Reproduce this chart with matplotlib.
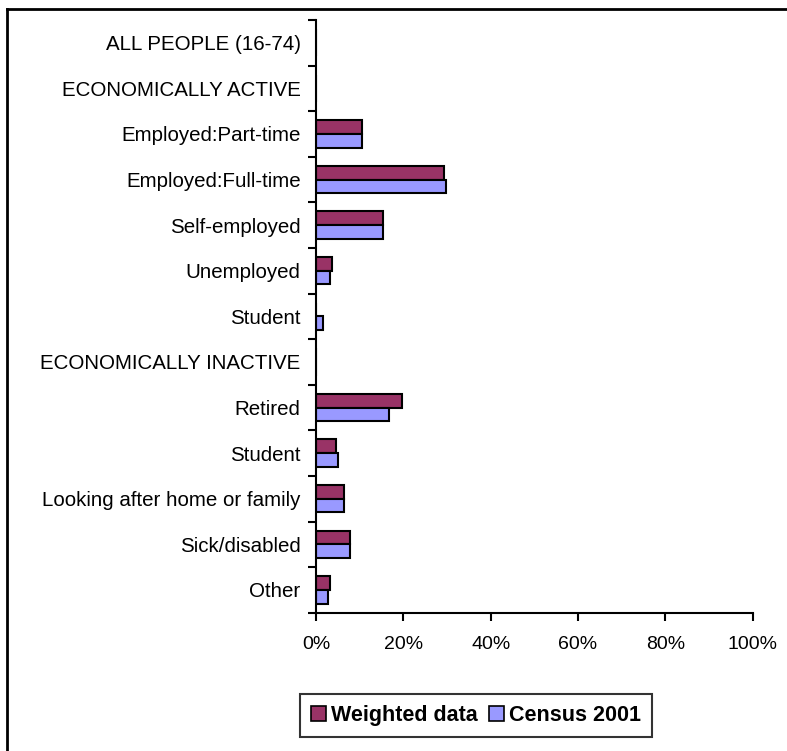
import matplotlib.pyplot as plt
from matplotlib.lines import Line2D
from matplotlib.patches import Patch

plt.rcParams['font.family'] = ['Liberation Sans', 'DejaVu Sans']

categories = [
    "ALL PEOPLE (16-74)", "ECONOMICALLY ACTIVE", "Employed:Part-time",
    "Employed:Full-time", "Self-employed", "Unemployed", "Student",
    "ECONOMICALLY INACTIVE", "Retired", "Student",
    "Looking after home or family", "Sick/disabled", "Other",
]
weighted = [0, 0, 10.5, 29.2, 15.4, 3.7, 0, 0, 19.6, 4.6, 6.4, 7.8, 3.2]
census = [0, 0, 10.5, 29.7, 15.4, 3.2, 1.7, 0, 16.8, 5.0, 6.4, 7.8, 2.7]
xticks = [0, 20, 40, 60, 80, 100]

W, H = 787, 751
fig = plt.figure(figsize=(W / 100, H / 100), dpi=100)
ax = fig.add_axes([316 / W, 1 - 612.7 / H, (752.7 - 316) / W, (612.7 - 20) / H])

ypos = list(range(len(categories)))
bh = 0.3
ax.barh([y - bh / 2 for y in ypos], weighted, height=bh, color='#993366',
        edgecolor='black', linewidth=1.5)
ax.barh([y + bh / 2 for y in ypos], census, height=bh, color='#9999FF',
        edgecolor='black', linewidth=1.5)

ax.set_xlim(0, 100)
ax.set_ylim(len(categories) - 0.5, -0.5)
ax.set_xticks(xticks)
ax.set_xticklabels([f"{v}%" for v in xticks], fontsize=14)
ax.set_yticks(ypos)
ax.set_yticklabels(categories, fontsize=14.8)
ax.set_yticks([y - 0.5 for y in range(len(categories) + 1)], minor=True)
ax.tick_params(axis='y', which='major', length=0, pad=11)
ax.tick_params(axis='y', which='minor', length=6, width=1.5, direction='out')
ax.tick_params(axis='x', length=6, width=1.5, direction='out', pad=11)
for side in ('top', 'right'):
    ax.spines[side].set_visible(False)
for side in ('left', 'bottom'):
    ax.spines[side].set_linewidth(1.5)

handles = [Patch(facecolor='#993366', edgecolor='black', linewidth=1.2),
           Patch(facecolor='#9999FF', edgecolor='black', linewidth=1.2)]
leg = fig.legend(handles, ["Weighted data", "Census 2001"], loc='center',
                 bbox_to_anchor=(476 / W, 1 - 715.5 / H), ncol=2,
                 prop={'weight': 'bold', 'size': 15.5}, frameon=True,
                 fancybox=False, edgecolor='black', handlelength=0.7,
                 handleheight=0.7, handletextpad=0.25, columnspacing=0.5,
                 borderpad=0.5, borderaxespad=0)
leg.get_frame().set_linewidth(1.5)

# chart area frame: only top and left edges are visible
fig.add_artist(Line2D([7 / W, 1], [1 - 9 / H, 1 - 9 / H], color='black', linewidth=2))
fig.add_artist(Line2D([7 / W, 7 / W], [0, 1 - 9 / H], color='black', linewidth=2))

fig.savefig('out.png', dpi=100)
